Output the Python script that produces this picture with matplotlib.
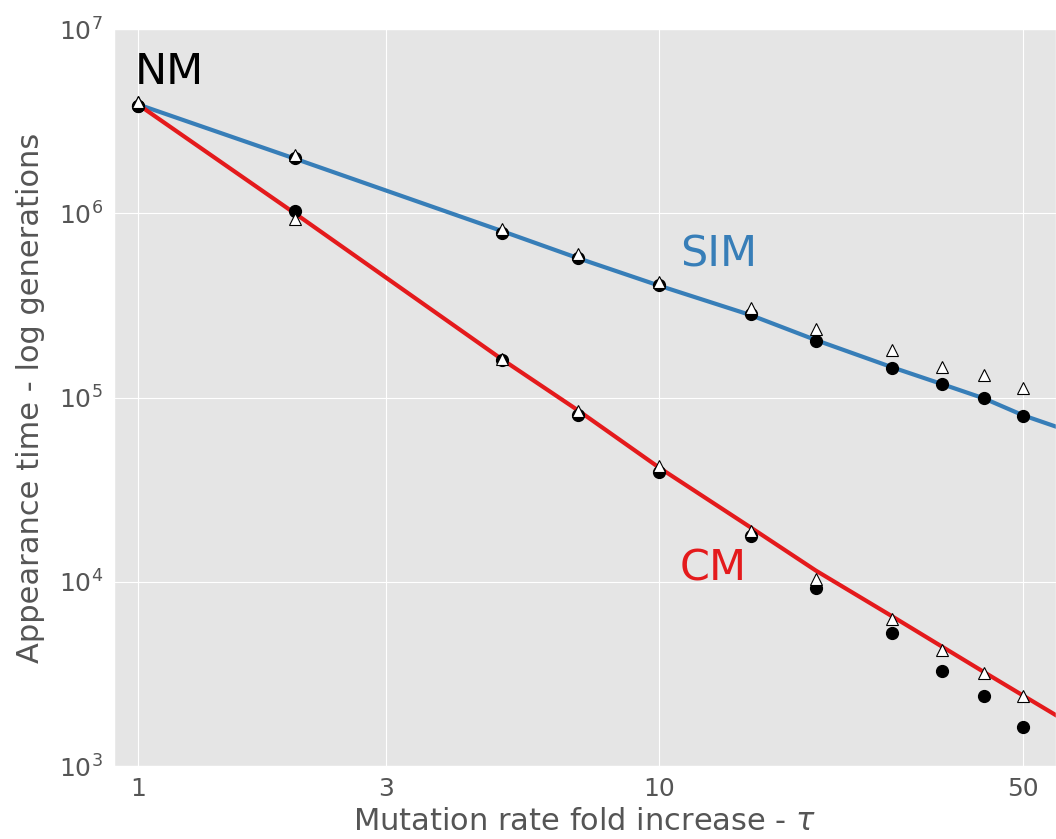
import matplotlib
matplotlib.use("Agg")
import matplotlib.pyplot as plt
from matplotlib.ticker import NullLocator, FixedLocator, FixedFormatter

# simulated points
tau = [1, 2, 5, 7, 10, 15, 20, 28, 35, 42, 50]
sim_circ = [3.8e6, 2.0e6, 7.8e5, 5.7e5, 4.08e5, 2.83e5, 2.03e5, 1.44e5, 1.19e5, 9.9e4, 7.96e4]
sim_tri = [4.0e6, 2.06e6, 8.2e5, 6.0e5, 4.24e5, 3.07e5, 2.35e5, 1.81e5, 1.47e5, 1.33e5, 1.12e5]
cm_circ = [3.8e6, 1.03e6, 1.59e5, 8.0e4, 3.93e4, 1.77e4, 9.3e3, 5.26e3, 3.26e3, 2.39e3, 1.63e3]
cm_tri = [4.0e6, 9.3e5, 1.61e5, 8.5e4, 4.27e4, 1.88e4, 1.04e4, 6.3e3, 4.27e3, 3.2e3, 2.39e3]

# theory lines
tau_line = [1, 2, 5, 7, 10, 15, 20, 28, 35, 42, 50, 60]
sim_line = [3.9e6, 1.98e6, 8.0e5, 5.7e5, 4.05e5, 2.8e5, 2.05e5, 1.46e5, 1.18e5, 9.9e4, 8.0e4, 6.7e4]
cm_line = [3.9e6, 1.0e6, 1.61e5, 8.5e4, 4.17e4, 1.97e4, 1.15e4, 6.5e3, 4.43e3, 3.24e3, 2.41e3, 1.77e3]

xticks = [1, 3, 10, 50]
xticklabels = ["1", "3", "10", "50"]

plt.style.use("ggplot")
blue = "#377eb8"
red = "#e41a1c"

fig = plt.figure(figsize=(10.56, 8.39), dpi=100)
ax = fig.add_axes([114 / 1056, 73 / 839, 1 - 114 / 1056, 737 / 839])

ax.plot(tau_line, sim_line, color=blue, lw=3, zorder=2)
ax.plot(tau_line, cm_line, color=red, lw=3, zorder=2)

for circ, tri in [(sim_circ, sim_tri), (cm_circ, cm_tri)]:
    ax.plot(tau, circ, "o", color="black", ms=8.5, zorder=3)
    ax.plot(tau, tri, "^", mfc="white", mec="black", mew=0.8, ms=9, zorder=4)

ax.set_xscale("log")
ax.set_yscale("log")
ax.set_xlim(0.9, 57.8)
ax.set_ylim(1e3, 1e7)
ax.xaxis.set_major_locator(FixedLocator(xticks))
ax.xaxis.set_major_formatter(FixedFormatter(xticklabels))
ax.xaxis.set_minor_locator(NullLocator())
ax.yaxis.set_minor_locator(NullLocator())
ax.tick_params(axis="both", which="both", length=0, labelsize=18, colors="#555555", pad=8)

ax.set_xlabel("Mutation rate fold increase - $\\tau$", fontsize=22, color="#555555", labelpad=4)
ax.set_ylabel("Appearance time - log generations", fontsize=22, color="#555555", labelpad=10)

ax.text(0.987, 5.0e6, "NM", fontsize=31, color="black", ha="left", va="baseline")
ax.text(10.96, 5.17e5, "SIM", fontsize=31, color=blue, ha="left", va="baseline")
ax.text(10.96, 1.01e4, "CM", fontsize=31, color=red, ha="left", va="baseline")

fig.savefig("out.png", dpi=100)
